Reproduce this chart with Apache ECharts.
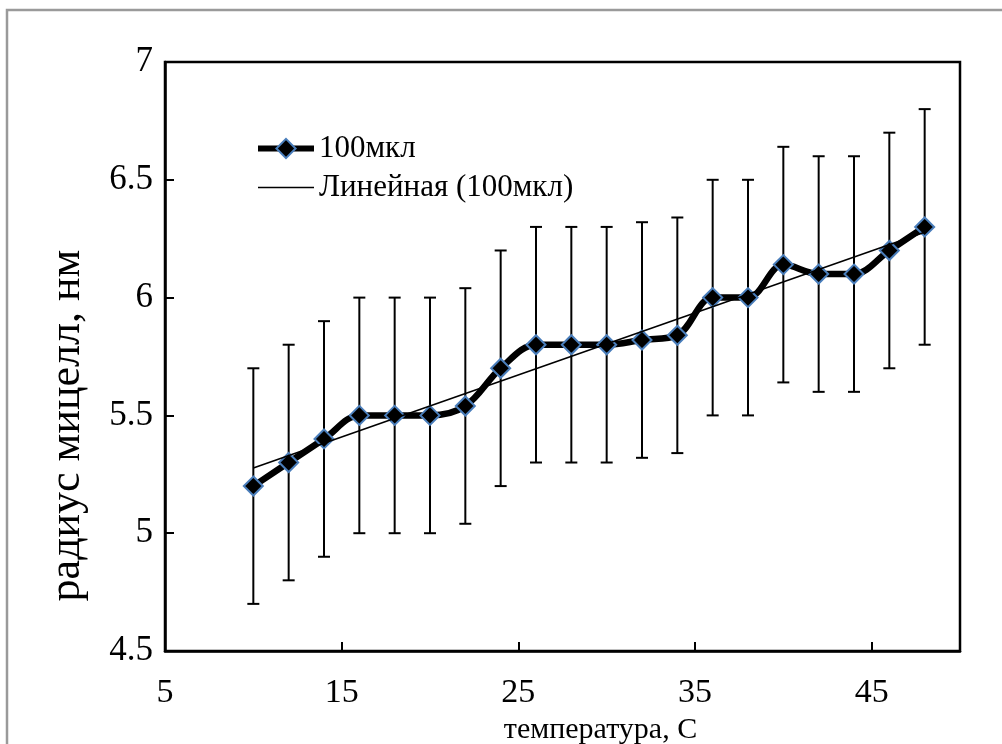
<!DOCTYPE html>
<html>
<head>
<meta charset="utf-8">
<script src="https://cdn.jsdelivr.net/npm/echarts@6/dist/echarts.min.js"></script>
<style>
  html, body { margin: 0; padding: 0; background: #ffffff; }
  #chart { width: 1002px; height: 744px; }
</style>
</head>
<body>
<div id="chart"></div>
<script>
// Temperature, °C
const temperature = [10, 12, 14, 16, 18, 20, 22, 24, 26, 28, 30, 32, 34, 36, 38, 40, 42, 44, 46, 48];
// Micelle radius, nm
const radius = [5.2, 5.3, 5.4, 5.5, 5.5, 5.5, 5.54, 5.7, 5.8, 5.8, 5.8, 5.82, 5.84, 6.0, 6.0, 6.14, 6.1, 6.1, 6.2, 6.3];
// Error bar half-widths, nm
const radiusError = [0.5, 0.5, 0.5, 0.5, 0.5, 0.5, 0.5, 0.5, 0.5, 0.5, 0.5, 0.5, 0.5, 0.5, 0.5, 0.5, 0.5, 0.5, 0.5, 0.5];

const seriesName = '100мкл';
const trendName = 'Линейная (100мкл)';
const xTitle = 'температура, С';
const yTitle = 'радиус мицелл, нм';

// Least-squares linear trend through the measured points
function linearFit(xs, ys) {
  const n = xs.length;
  let sx = 0, sy = 0, sxx = 0, sxy = 0;
  for (let i = 0; i < n; i++) {
    sx += xs[i]; sy += ys[i]; sxx += xs[i] * xs[i]; sxy += xs[i] * ys[i];
  }
  const slope = (n * sxy - sx * sy) / (n * sxx - sx * sx);
  const intercept = (sy - slope * sx) / n;
  return { slope, intercept };
}
const fit = linearFit(temperature, radius);
const xFirst = temperature[0];
const xLast = temperature[temperature.length - 1];
const trendData = [
  [xFirst, fit.intercept + fit.slope * xFirst],
  [xLast, fit.intercept + fit.slope * xLast]
];

const mainData = temperature.map((t, i) => [t, radius[i]]);
const errorData = temperature.map((t, i) => [t, radius[i] - radiusError[i], radius[i] + radiusError[i]]);

const FONT = '"Liberation Serif", "Times New Roman", serif';

const chart = echarts.init(document.getElementById('chart'), null, { renderer: 'canvas' });

chart.setOption({
  animation: false,
  backgroundColor: '#ffffff',
  graphic: [{
    type: 'rect',
    shape: { x: 7, y: 10, width: 1010, height: 800 },
    style: { fill: 'none', stroke: '#9a9a9a', lineWidth: 2.5 },
    silent: true
  }],
  grid: {
    left: 165, right: 42, top: 62, bottom: 93,
    show: true, borderColor: '#000', borderWidth: 2.5,
    containLabel: false,
    outerBoundsMode: 'none'
  },
  legend: {
    orient: 'vertical',
    left: 250, top: 128,
    itemWidth: 56, itemHeight: 24, itemGap: 8,
    data: [
      { name: seriesName, lineStyle: { width: 6, color: '#000' } },
      { name: trendName, itemStyle: { opacity: 0 }, lineStyle: { width: 1.6, color: '#000' } }
    ],
    textStyle: { fontFamily: FONT, fontSize: 31, color: '#000', padding: [0, 0, 0, 0] }
  },
  xAxis: {
    type: 'value',
    min: 5, max: 50, interval: 10,
    name: xTitle,
    nameLocation: 'middle',
    nameGap: 61,
    nameTextStyle: { fontFamily: FONT, fontSize: 30, color: '#000', padding: [0, 0, 0, 76] },
    axisLine: { show: true, onZero: false, lineStyle: { color: '#000', width: 2.5 } },
    axisTick: { show: true, inside: true, length: 9, lineStyle: { color: '#000', width: 2 } },
    axisLabel: { fontFamily: FONT, fontSize: 34, color: '#000', margin: 25, showMaxLabel: false },
    splitLine: { show: false }
  },
  yAxis: {
    type: 'value',
    min: 4.5, max: 7, interval: 0.5,
    name: yTitle,
    nameLocation: 'middle',
    nameGap: 76,
    nameRotate: 90,
    nameTextStyle: { fontFamily: FONT, fontSize: 44, color: '#000', padding: [0, 138, 0, 0] },
    axisLine: { show: true, lineStyle: { color: '#000', width: 2.5 } },
    axisTick: { show: true, inside: true, length: 9, lineStyle: { color: '#000', width: 2 } },
    axisLabel: { fontFamily: FONT, fontSize: 35, color: '#000', margin: 12 },
    splitLine: { show: false }
  },
  series: [
    {
      name: 'errors',
      type: 'custom',
      silent: true,
      z: 1,
      data: errorData,
      renderItem: function (params, api) {
        const x = api.value(0);
        const lo = api.coord([x, api.value(1)]);
        const hi = api.coord([x, api.value(2)]);
        const cap = 6;
        const style = { stroke: '#000', lineWidth: 2 };
        return {
          type: 'group',
          children: [
            { type: 'line', shape: { x1: lo[0], y1: lo[1], x2: hi[0], y2: hi[1] }, style },
            { type: 'line', shape: { x1: hi[0] - cap, y1: hi[1], x2: hi[0] + cap, y2: hi[1] }, style },
            { type: 'line', shape: { x1: lo[0] - cap, y1: lo[1], x2: lo[0] + cap, y2: lo[1] }, style }
          ]
        };
      }
    },
    {
      name: seriesName,
      type: 'line',
      z: 3,
      data: mainData,
      smooth: 0.35,
      symbol: 'diamond',
      symbolSize: 19,
      lineStyle: { color: '#000', width: 6.5 },
      itemStyle: { color: '#000', borderColor: '#4a7ebb', borderWidth: 2 }
    },
    {
      name: trendName,
      type: 'line',
      z: 4,
      data: trendData,
      symbol: 'none',
      lineStyle: { color: '#000', width: 1.6 },
      itemStyle: { color: '#000' }
    }
  ]
});
</script>
</body>
</html>
